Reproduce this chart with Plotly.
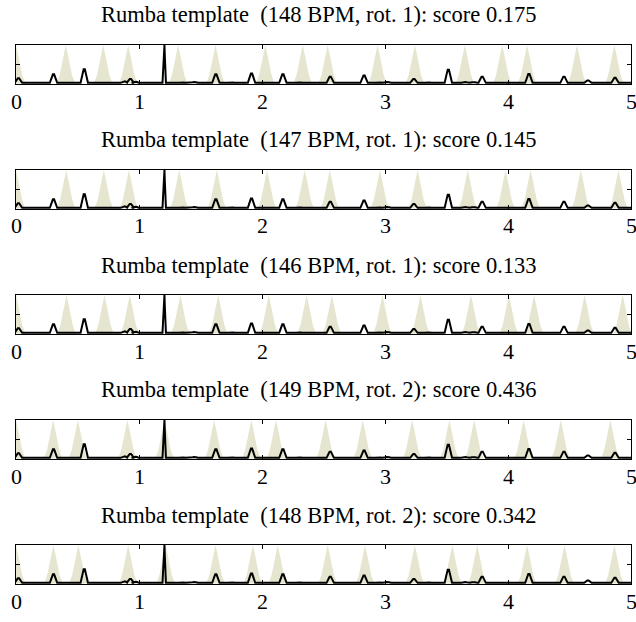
import plotly.graph_objects as go

W, H = 636, 622

# ---- data ----
panel_bpm = [148, 147, 146, 149, 148]
panel_rot = [1, 1, 1, 2, 2]
panel_score = [0.175, 0.145, 0.133, 0.436, 0.342]

# template peak centres (seconds) for each panel
template_1 = [0.00, 0.405, 0.709, 0.912, 1.318, 1.622, 2.027, 2.331, 2.534, 2.939, 3.243, 3.649, 3.953, 4.155, 4.561, 4.865]
template_2 = [0.00, 0.408, 0.714, 0.918, 1.327, 1.633, 2.041, 2.347, 2.551, 2.959, 3.265, 3.673, 3.980, 4.184, 4.592, 4.898]
template_3 = [0.00, 0.411, 0.719, 0.925, 1.336, 1.644, 2.055, 2.363, 2.568, 2.979, 3.288, 3.699, 4.007, 4.212, 4.623, 4.932]
template_4 = [0.00, 0.302, 0.503, 0.906, 1.208, 1.611, 1.913, 2.114, 2.517, 2.819, 3.221, 3.523, 3.725, 4.127, 4.429, 4.832]
template_5 = [0.00, 0.304, 0.507, 0.912, 1.216, 1.622, 1.926, 2.128, 2.534, 2.838, 3.243, 3.547, 3.750, 4.155, 4.459, 4.865]
templates = [template_1, template_2, template_3, template_4, template_5]

# onset (novelty) curve peaks: time (s) and height (relative)
onset_t = [0.02, 0.305, 0.555, 0.88, 0.93, 0.97, 1.205, 1.35, 1.45, 1.625, 1.75, 1.915,
           2.17, 2.30, 2.555, 2.83, 2.95, 3.02, 3.235, 3.35, 3.515, 3.65, 3.72, 3.79,
           4.17, 4.455, 4.65, 4.87]
onset_h = [0.14, 0.24, 0.37, 0.06, 0.12, 0.05, 1.00, 0.03, 0.04, 0.24, 0.03, 0.26,
           0.24, 0.03, 0.18, 0.21, 0.03, 0.04, 0.12, 0.03, 0.36, 0.04, 0.04, 0.18,
           0.25, 0.18, 0.08, 0.15]
baseline = 0.02

x_ticks = [0, 1, 2, 3, 4, 5]
x_tick_labels = ["0", "1", "2", "3", "4", "5"]

# ---- layout geometry (pixels) ----
x_left, x_right = 16, 631
box_top0, box_h, pitch = 45, 39, 125
FONT = "Liberation Serif"
TEMPLATE_COLOR = "#e6e5cf"


def template_path(centres):
    xs, ys = [], []
    for c in centres:
        xs += [c - 0.075, c - 0.05, c - 0.02, c, c + 0.02, c + 0.05, c + 0.075]
        ys += [0, 0.22, 0.7, 1.0, 0.7, 0.22, 0]
    return xs, ys


def onset_path(ts, hs):
    xs, ys = [0.0], [baseline]
    for t, h in zip(ts, hs):
        if h >= 0.9:
            dx = [-0.014, -0.005, -0.002, 0.002, 0.005, 0.014]
        else:
            dx = [-0.03, -0.013, -0.005, 0.005, 0.013, 0.03]
        fy = [0, 0.7, 1, 1, 0.7, 0]
        for d, f in zip(dx, fy):
            xs.append(t + d)
            ys.append(baseline + (h - baseline) * f if f > 0 else baseline)
    xs.append(5.0)
    ys.append(baseline)
    return xs, ys


fig = go.Figure()
ox, oy = onset_path(onset_t, onset_h)

for k in range(5):
    sfx = "" if k == 0 else str(k + 1)
    tx, ty = template_path(templates[k])
    fig.add_trace(go.Scatter(x=tx, y=ty, mode="lines", fill="toself",
                             fillcolor=TEMPLATE_COLOR, line=dict(width=0, color=TEMPLATE_COLOR),
                             xaxis="x" + sfx, yaxis="y" + sfx, showlegend=False,
                             hoverinfo="skip"))
    fig.add_trace(go.Scatter(x=ox, y=oy, mode="lines",
                             line=dict(width=2, color="black"),
                             xaxis="x" + sfx, yaxis="y" + sfx, showlegend=False))

    top = box_top0 + pitch * k
    bot = top + box_h
    ydom = [1 - bot / H, 1 - top / H]
    xdom = [x_left / W, x_right / W]
    axis_common = dict(showline=True, linecolor="black", linewidth=1, mirror="ticks",
                       ticks="inside", ticklen=4, tickcolor="black", tickwidth=1,
                       showgrid=False, zeroline=False)
    fig.layout["xaxis" + sfx] = dict(domain=xdom, range=[0, 5], tickvals=x_ticks,
                                     showticklabels=False,
                                     anchor="y" + sfx, **axis_common)
    fig.layout["yaxis" + sfx] = dict(domain=ydom, range=[-0.01, 1.0], tickvals=[0.5],
                                     showticklabels=False, anchor="x" + sfx, **axis_common)
    # tick labels as text (keeps the "5" at the right edge visible)
    for v, lab in zip(x_ticks, x_tick_labels):
        fig.add_annotation(text=lab, xref="x" + sfx, yref="paper", x=v,
                           y=1 - (bot + 17) / H, xanchor="center", yanchor="middle",
                           showarrow=False,
                           font=dict(family=FONT, size=22, color="black"))
    title = (f"Rumba template  ({panel_bpm[k]} BPM, rot. {panel_rot[k]}): "
             f"score {panel_score[k]:.3f}")
    fig.add_annotation(text=title, xref="paper", yref="paper",
                       x=319 / W, y=1 - (15 + pitch * k) / H,
                       xanchor="center", yanchor="middle", showarrow=False,
                       font=dict(family=FONT, size=22.5, color="black"))

fig.update_layout(width=W, height=H, margin=dict(l=0, r=0, t=0, b=0),
                  paper_bgcolor="white", plot_bgcolor="white")

fig.write_html("out.html")
